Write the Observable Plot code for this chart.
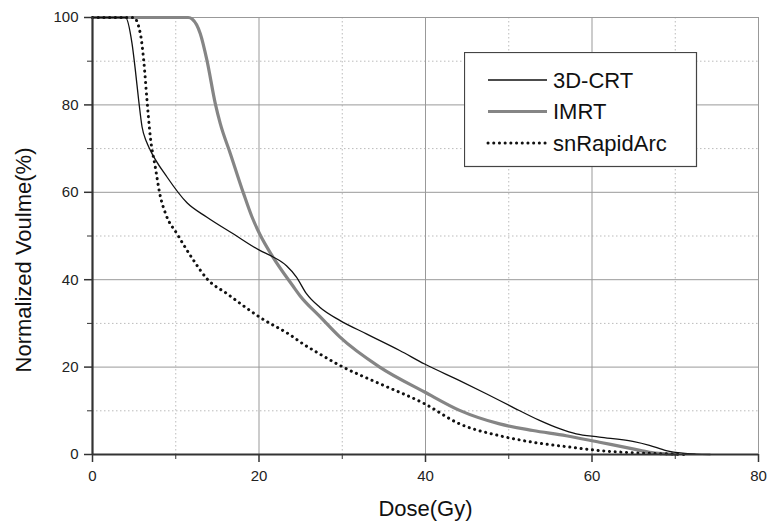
<!DOCTYPE html>
<html>
<head>
<meta charset="utf-8">
<script src="https://cdn.jsdelivr.net/npm/d3@7"></script>
<script src="https://cdn.jsdelivr.net/npm/@observablehq/plot@0.6"></script>
<style>
  body { margin: 0; background: #fff; }
  #wrap { position: relative; width: 769px; height: 523px; font-family: "Liberation Sans", Arial, sans-serif; }
  #legend { position: absolute; left: 464px; top: 52px; }
</style>
</head>
<body>
<div id="wrap"><div id="chart"></div><div id="legend"></div></div>
<script>
const seriesNames = ["3D-CRT", "IMRT", "snRapidArc"];

const crtDose = [0, 3.96, 4.75, 5.15, 5.55, 5.95, 6.5, 6.95, 8.95, 11.35, 13.75, 16.9, 20.1, 21.6, 23.3, 24.5, 25.7, 27.3, 29.7, 32.9, 36.9, 39.9, 44.1, 47.3, 50.5, 53.7, 56.1, 58.1, 60.9, 64.9, 66.9, 68.9, 70.9, 72.5, 74.2];
const crtVol  = [100, 100, 94, 87.9, 81, 75, 71.5, 69.6, 63.5, 57.6, 54.3, 50.5, 46.7, 45.3, 43.2, 40.6, 36.8, 33.7, 30.7, 27.6, 23.8, 20.7, 16.9, 13.9, 10.8, 7.8, 5.9, 4.7, 4.0, 3.0, 2.1, 0.9, 0.3, 0.1, 0];

const imrtDose = [0, 11.5, 12.0, 12.95, 13.75, 14.75, 15.35, 16.55, 18.15, 19.15, 20.1, 21.6, 24.1, 24.9, 27.3, 29.7, 34.5, 39.9, 44.1, 48.9, 52.9, 56.9, 60.9, 64.9, 66.9, 68.9, 70.2];
const imrtVol  = [100, 100, 99.6, 96.3, 90.2, 80.3, 75.7, 68.9, 59.7, 54.4, 50.4, 45.4, 38.5, 36.4, 31.6, 26.9, 20.0, 14.3, 10.1, 7.0, 5.5, 4.3, 2.8, 1.3, 0.5, 0.15, 0];

const arcDose = [0, 4.95, 5.75, 6.15, 6.55, 6.95, 7.55, 8.1, 8.8, 10.15, 12.15, 13.75, 16.15, 20.1, 24.1, 24.9, 27.3, 29.7, 34.5, 39.9, 44.1, 48.9, 52.9, 56.9, 60.9, 64.9, 68.9, 71];
const arcVol  = [100, 100, 96.3, 90.2, 81, 72.6, 65.7, 59.5, 55.0, 50.5, 44.4, 40.2, 36.8, 31.4, 26.9, 25.8, 23.0, 20.4, 16.2, 11.6, 7.0, 4.3, 2.8, 1.8, 0.9, 0.4, 0.15, 0];

const majorX = [0, 20, 40, 60, 80];
const minorX = [10, 30, 50, 70];
const majorY = [0, 20, 40, 60, 80, 100];
const minorY = [10, 30, 50, 70, 90];
const xLabel = "Dose(Gy)";
const yLabel = "Normalized Voulme(%)";

const toRows = (d, v) => d.map((x, i) => ({x, y: v[i]}));
const crt = toRows(crtDose, crtVol);
const imrt = toRows(imrtDose, imrtVol);
const arc = toRows(arcDose, arcVol);

const chart = Plot.plot({
  width: 769,
  height: 523,
  marginLeft: 92,
  marginRight: 11,
  marginTop: 17,
  marginBottom: 69,
  style: {fontFamily: "'Liberation Sans', Arial, sans-serif", fontSize: "15px", color: "#222", background: "#fff"},
  x: {domain: [0, 80]},
  y: {domain: [0, 100]},
  marks: [
    Plot.gridX(minorX, {stroke: "#bbb", strokeOpacity: 1, strokeDasharray: "1.5,2.5"}),
    Plot.gridY(minorY, {stroke: "#bbb", strokeOpacity: 1, strokeDasharray: "1.5,2.5"}),
    Plot.gridX(majorX.slice(1), {stroke: "#999", strokeOpacity: 1}),
    Plot.gridY(majorY.slice(1), {stroke: "#999", strokeOpacity: 1}),
    Plot.line(imrt, {x: "x", y: "y", stroke: "#858585", strokeWidth: 3.2, curve: "monotone-x"}),
    Plot.line(crt, {x: "x", y: "y", stroke: "#111", strokeWidth: 1.3, curve: "monotone-x"}),
    Plot.line(arc, {x: "x", y: "y", stroke: "#111", strokeWidth: 3, strokeDasharray: "0.1,5.6", strokeLinecap: "round", curve: "monotone-x"}),
    Plot.axisX({ticks: minorX, tickSize: 5, tickFormat: () => "", label: null, stroke: "#333"}),
    Plot.axisY({ticks: minorY, tickSize: 5, tickFormat: () => "", label: null, stroke: "#333"}),
    Plot.axisX({ticks: majorX, tickSize: 8, tickPadding: 8, label: null, stroke: "#333", strokeWidth: 1.5}),
    Plot.axisY({ticks: majorY, tickSize: 8, tickPadding: 6, label: null, stroke: "#333", strokeWidth: 1.5}),
    Plot.ruleY([0], {stroke: "#333", strokeWidth: 2.2}),
    Plot.ruleX([0], {stroke: "#333", strokeWidth: 2.2}),
    Plot.text([xLabel], {frameAnchor: "bottom", dy: 54, lineAnchor: "middle", fontSize: 22, fill: "#111"}),
    Plot.text([yLabel], {frameAnchor: "left", textAnchor: "middle", dx: -69, dy: 24, rotate: -90, lineAnchor: "middle", fontSize: 22, fill: "#111"})
  ]
});
document.getElementById("chart").appendChild(chart);

// Legend
const styles = [
  {stroke: "#111", width: 1.3, dash: null},
  {stroke: "#858585", width: 3.2, dash: null},
  {stroke: "#111", width: 3, dash: "0.1,5.6"}
];
const lg = d3.select("#legend").append("svg").attr("width", 234).attr("height", 116);
lg.append("rect").attr("x", 0.5).attr("y", 0.5).attr("width", 232).attr("height", 114)
  .attr("fill", "#fff").attr("stroke", "#444").attr("stroke-width", 1.2);
seriesNames.forEach((name, i) => {
  const cy = 28 + i * 31.5;
  const ln = lg.append("line").attr("x1", 24).attr("x2", 83).attr("y1", cy).attr("y2", cy)
    .attr("stroke", styles[i].stroke).attr("stroke-width", styles[i].width);
  if (styles[i].dash) ln.attr("stroke-dasharray", styles[i].dash).attr("stroke-linecap", "round");
  lg.append("text").attr("x", 89).attr("y", cy).attr("dy", "0.36em")
    .attr("font-size", 22).attr("fill", "#111")
    .attr("font-family", "'Liberation Sans', Arial, sans-serif").text(name);
});
</script>
</body>
</html>
